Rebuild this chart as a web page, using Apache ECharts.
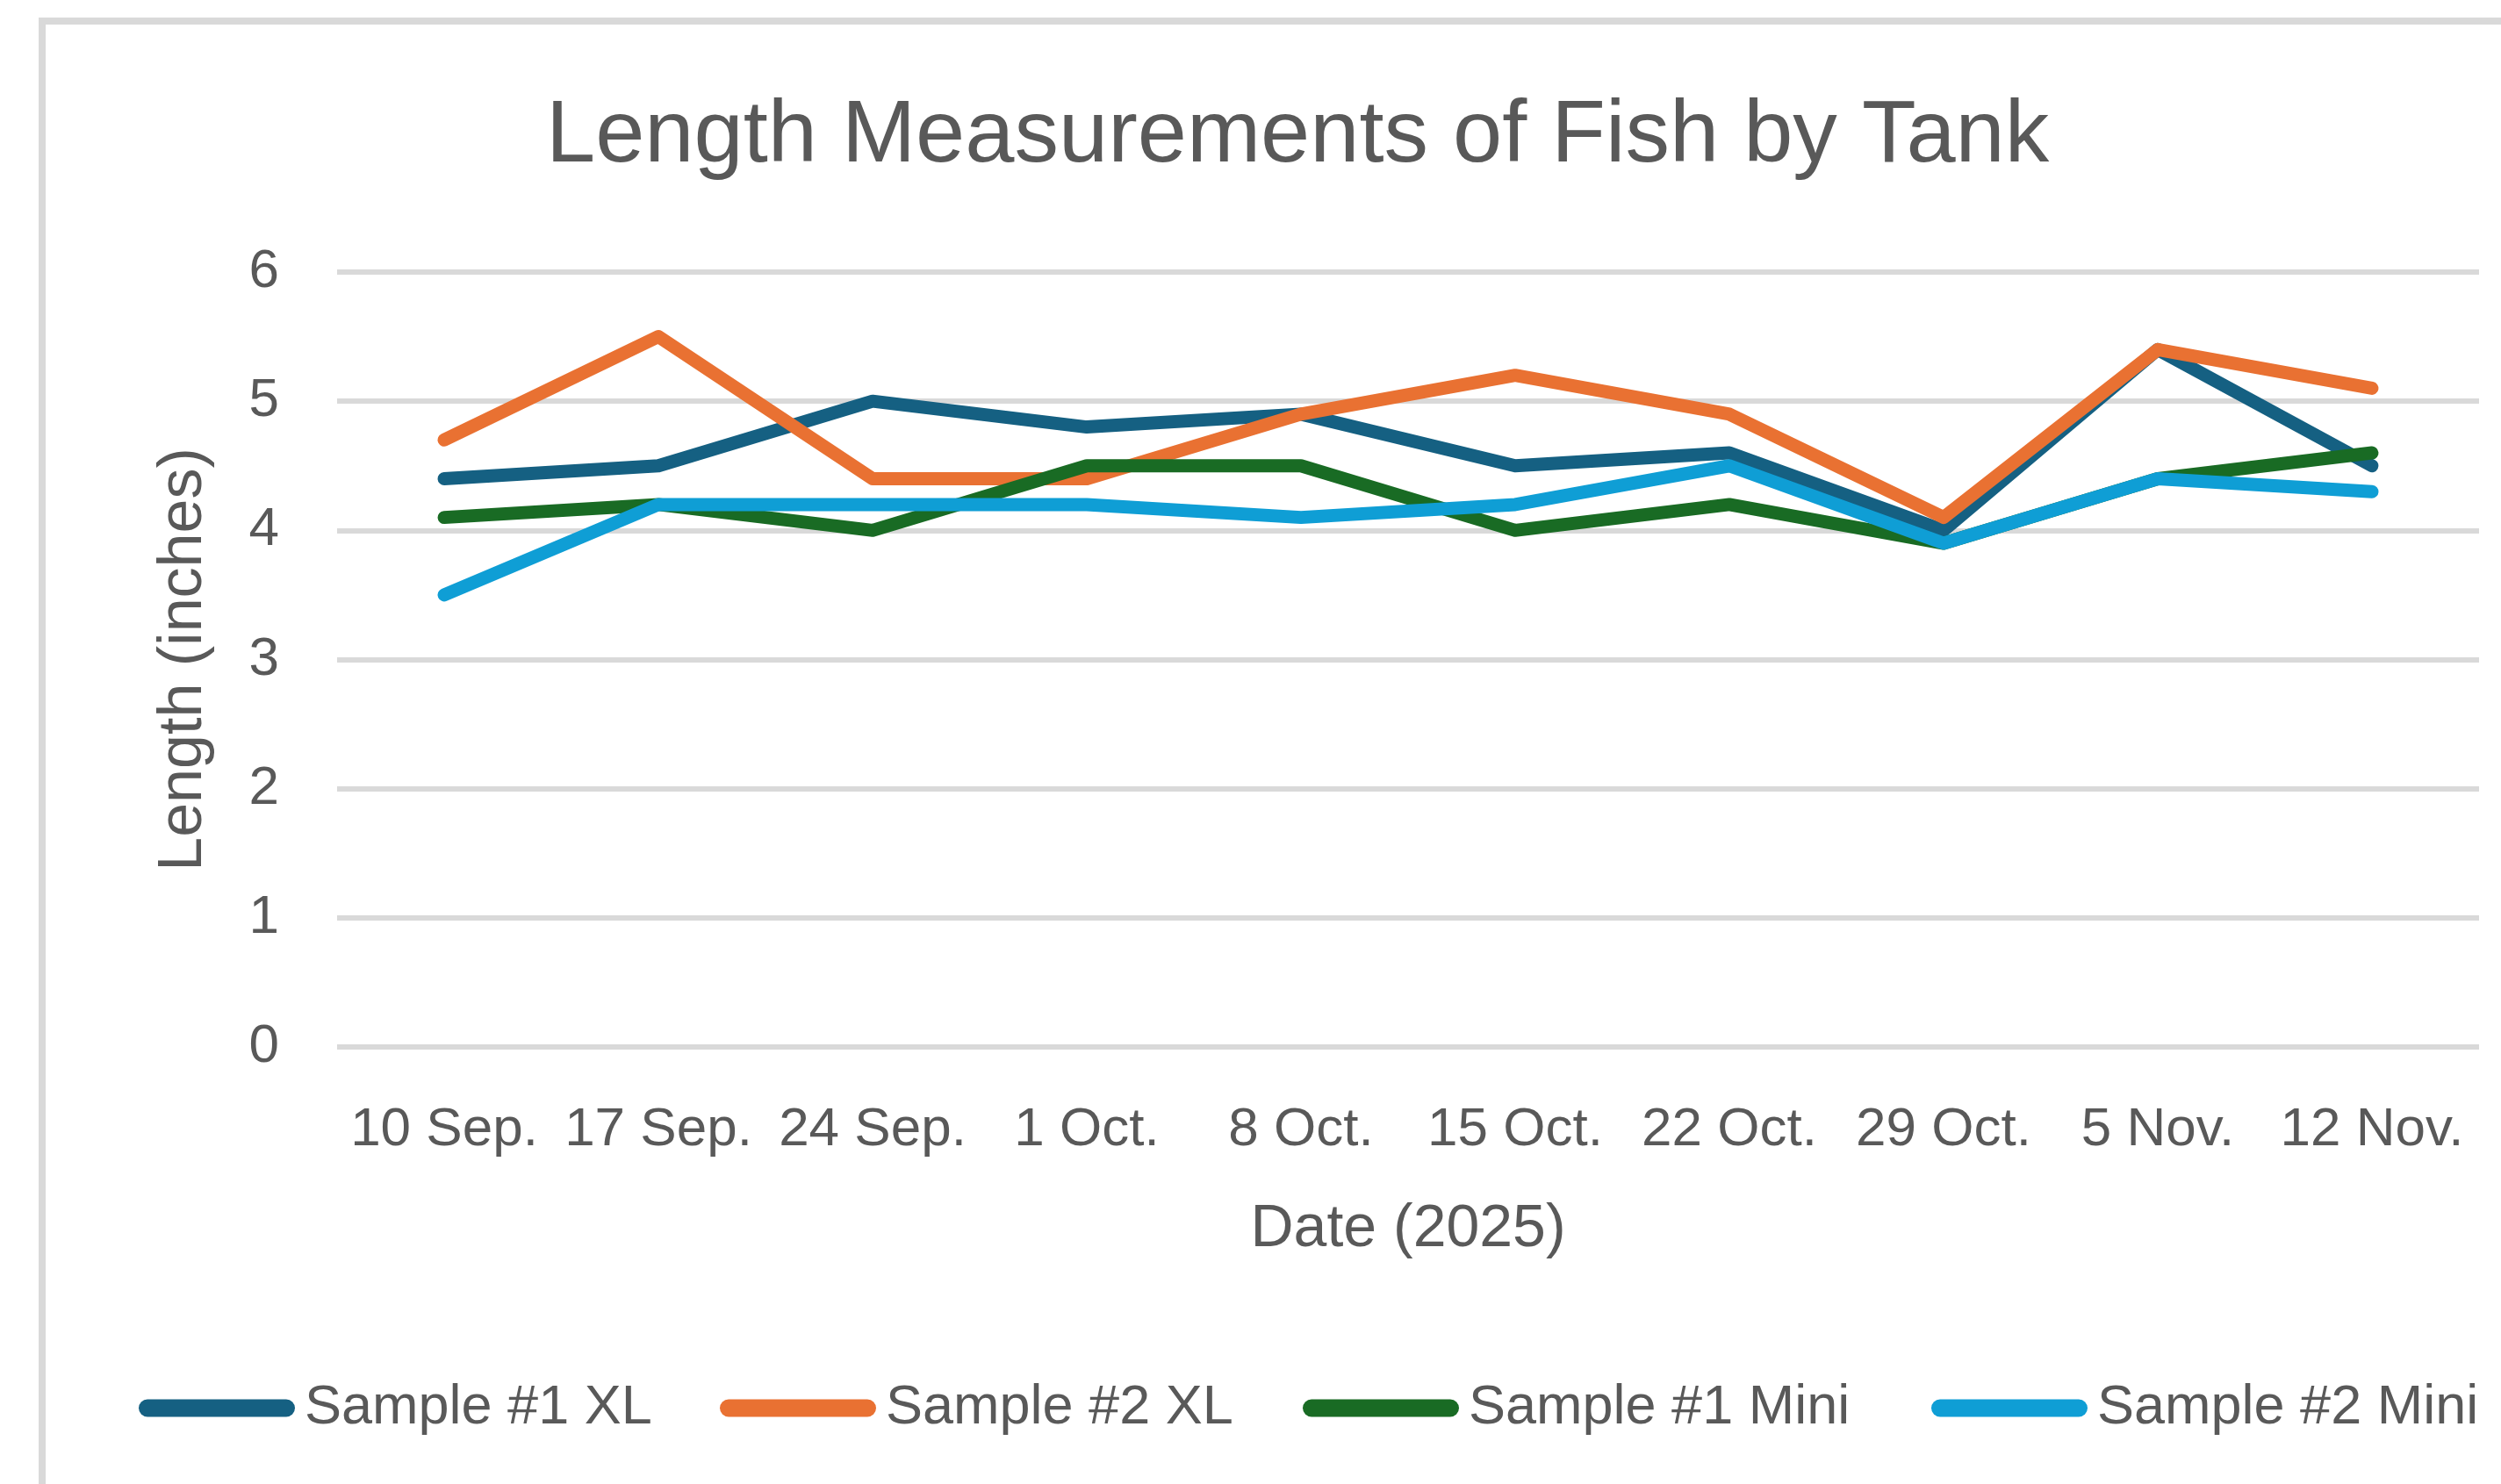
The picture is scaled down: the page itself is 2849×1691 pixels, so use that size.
<!DOCTYPE html>
<html>
<head>
<meta charset="utf-8">
<script src="https://cdn.jsdelivr.net/npm/echarts@6/dist/echarts.min.js"></script>
<style>
  html, body { margin: 0; padding: 0; background: #ffffff; }
  #chart { width: 2849px; height: 1691px; }
</style>
</head>
<body>
<div id="chart"></div>
<script>
const chartTitle = 'Length Measurements of Fish by Tank';
const xAxisTitle = 'Date (2025)';
const yAxisTitle = 'Length (inches)';
const categories = ['10 Sep.', '17 Sep.', '24 Sep.', '1 Oct.', '8 Oct.', '15 Oct.', '22 Oct.', '29 Oct.', '5 Nov.', '12 Nov.'];
const seriesNames = ['Sample #1 XL', 'Sample #2 XL', 'Sample #1 Mini', 'Sample #2 Mini'];
const sample1XL   = [4.4, 4.5, 5.0, 4.8, 4.9, 4.5, 4.6, 4.0, 5.4, 4.5];
const sample2XL   = [4.7, 5.5, 4.4, 4.4, 4.9, 5.2, 4.9, 4.1, 5.4, 5.1];
const sample1Mini = [4.1, 4.2, 4.0, 4.5, 4.5, 4.0, 4.2, 3.9, 4.4, 4.6];
const sample2Mini = [3.5, 4.2, 4.2, 4.2, 4.1, 4.2, 4.5, 3.9, 4.4, 4.3];
const yTicks = [0, 1, 2, 3, 4, 5, 6];

const colors = ['#156082', '#E97132', '#196B24', '#0F9ED5'];
const seriesData = [sample1XL, sample2XL, sample1Mini, sample2Mini];
const font = 'Liberation Sans, Arial, sans-serif';
const textColor = '#595959';
const legendLefts = [158, 820, 1484, 2200];
const legendIcon = 'path://M10,0 L168,0 A10,10 0 0 1 168,20 L10,20 A10,10 0 0 1 10,0 Z';

// centre the title at x = 1478 (measure its width with the same font)
const titleSize = 101;
const measureCtx = document.createElement('canvas').getContext('2d');
measureCtx.font = titleSize + 'px "Liberation Sans", Arial, sans-serif';
const titleWidth = measureCtx.measureText(chartTitle).width;
const titleLeft = Math.round(1478 - titleWidth / 2);

const chart = echarts.init(document.getElementById('chart'), null, { renderer: 'canvas' });

const option = {
  backgroundColor: '#ffffff',
  animation: false,
  color: colors,
  textStyle: { fontFamily: font },
  graphic: [{
    type: 'rect',
    silent: true,
    shape: { x: 48, y: 24, width: 3000, height: 2000 },
    style: { fill: 'none', stroke: '#d9d9d9', lineWidth: 8 }
  }],
  title: {
    text: chartTitle,
    left: titleLeft,
    top: 106,
    padding: 0,
    textStyle: { fontFamily: font, fontSize: titleSize, fontWeight: 'normal', color: textColor }
  },
  legend: seriesNames.map((name, i) => ({
    data: [name],
    left: legendLefts[i],
    top: 1573,
    padding: 0,
    itemWidth: 178,
    itemHeight: 20,
    icon: legendIcon,
    textStyle: { fontFamily: font, fontSize: 63, color: textColor, padding: [0, 0, 0, 6] }
  })),
  grid: { left: 384, right: 25, top: 310, bottom: 498, containLabel: false },
  xAxis: {
    type: 'category',
    data: categories,
    boundaryGap: true,
    name: xAxisTitle,
    nameLocation: 'middle',
    nameGap: 174,
    nameTextStyle: { fontFamily: font, fontSize: 68, color: textColor },
    axisLine: { show: false },
    axisTick: { show: false },
    axisLabel: { interval: 0, margin: 64, fontFamily: font, fontSize: 62, color: textColor },
    splitLine: { show: false }
  },
  yAxis: {
    type: 'value',
    min: yTicks[0],
    max: yTicks[yTicks.length - 1],
    interval: 1,
    name: yAxisTitle,
    nameLocation: 'middle',
    nameGap: 139,
    nameRotate: 90,
    nameTextStyle: { fontFamily: font, fontSize: 70, color: textColor },
    axisLine: { show: false },
    axisTick: { show: false },
    axisLabel: { margin: 66, fontFamily: font, fontSize: 62, color: textColor },
    splitLine: { lineStyle: { color: '#d9d9d9', width: 6 } }
  },
  series: seriesNames.map((name, i) => ({
    name: name,
    type: 'line',
    data: seriesData[i],
    showSymbol: false,
    symbol: 'none',
    lineStyle: { width: 15, color: colors[i], cap: 'round', join: 'round' },
    itemStyle: { color: colors[i] },
    emphasis: { disabled: true }
  }))
};

chart.setOption(option);
</script>
</body>
</html>
